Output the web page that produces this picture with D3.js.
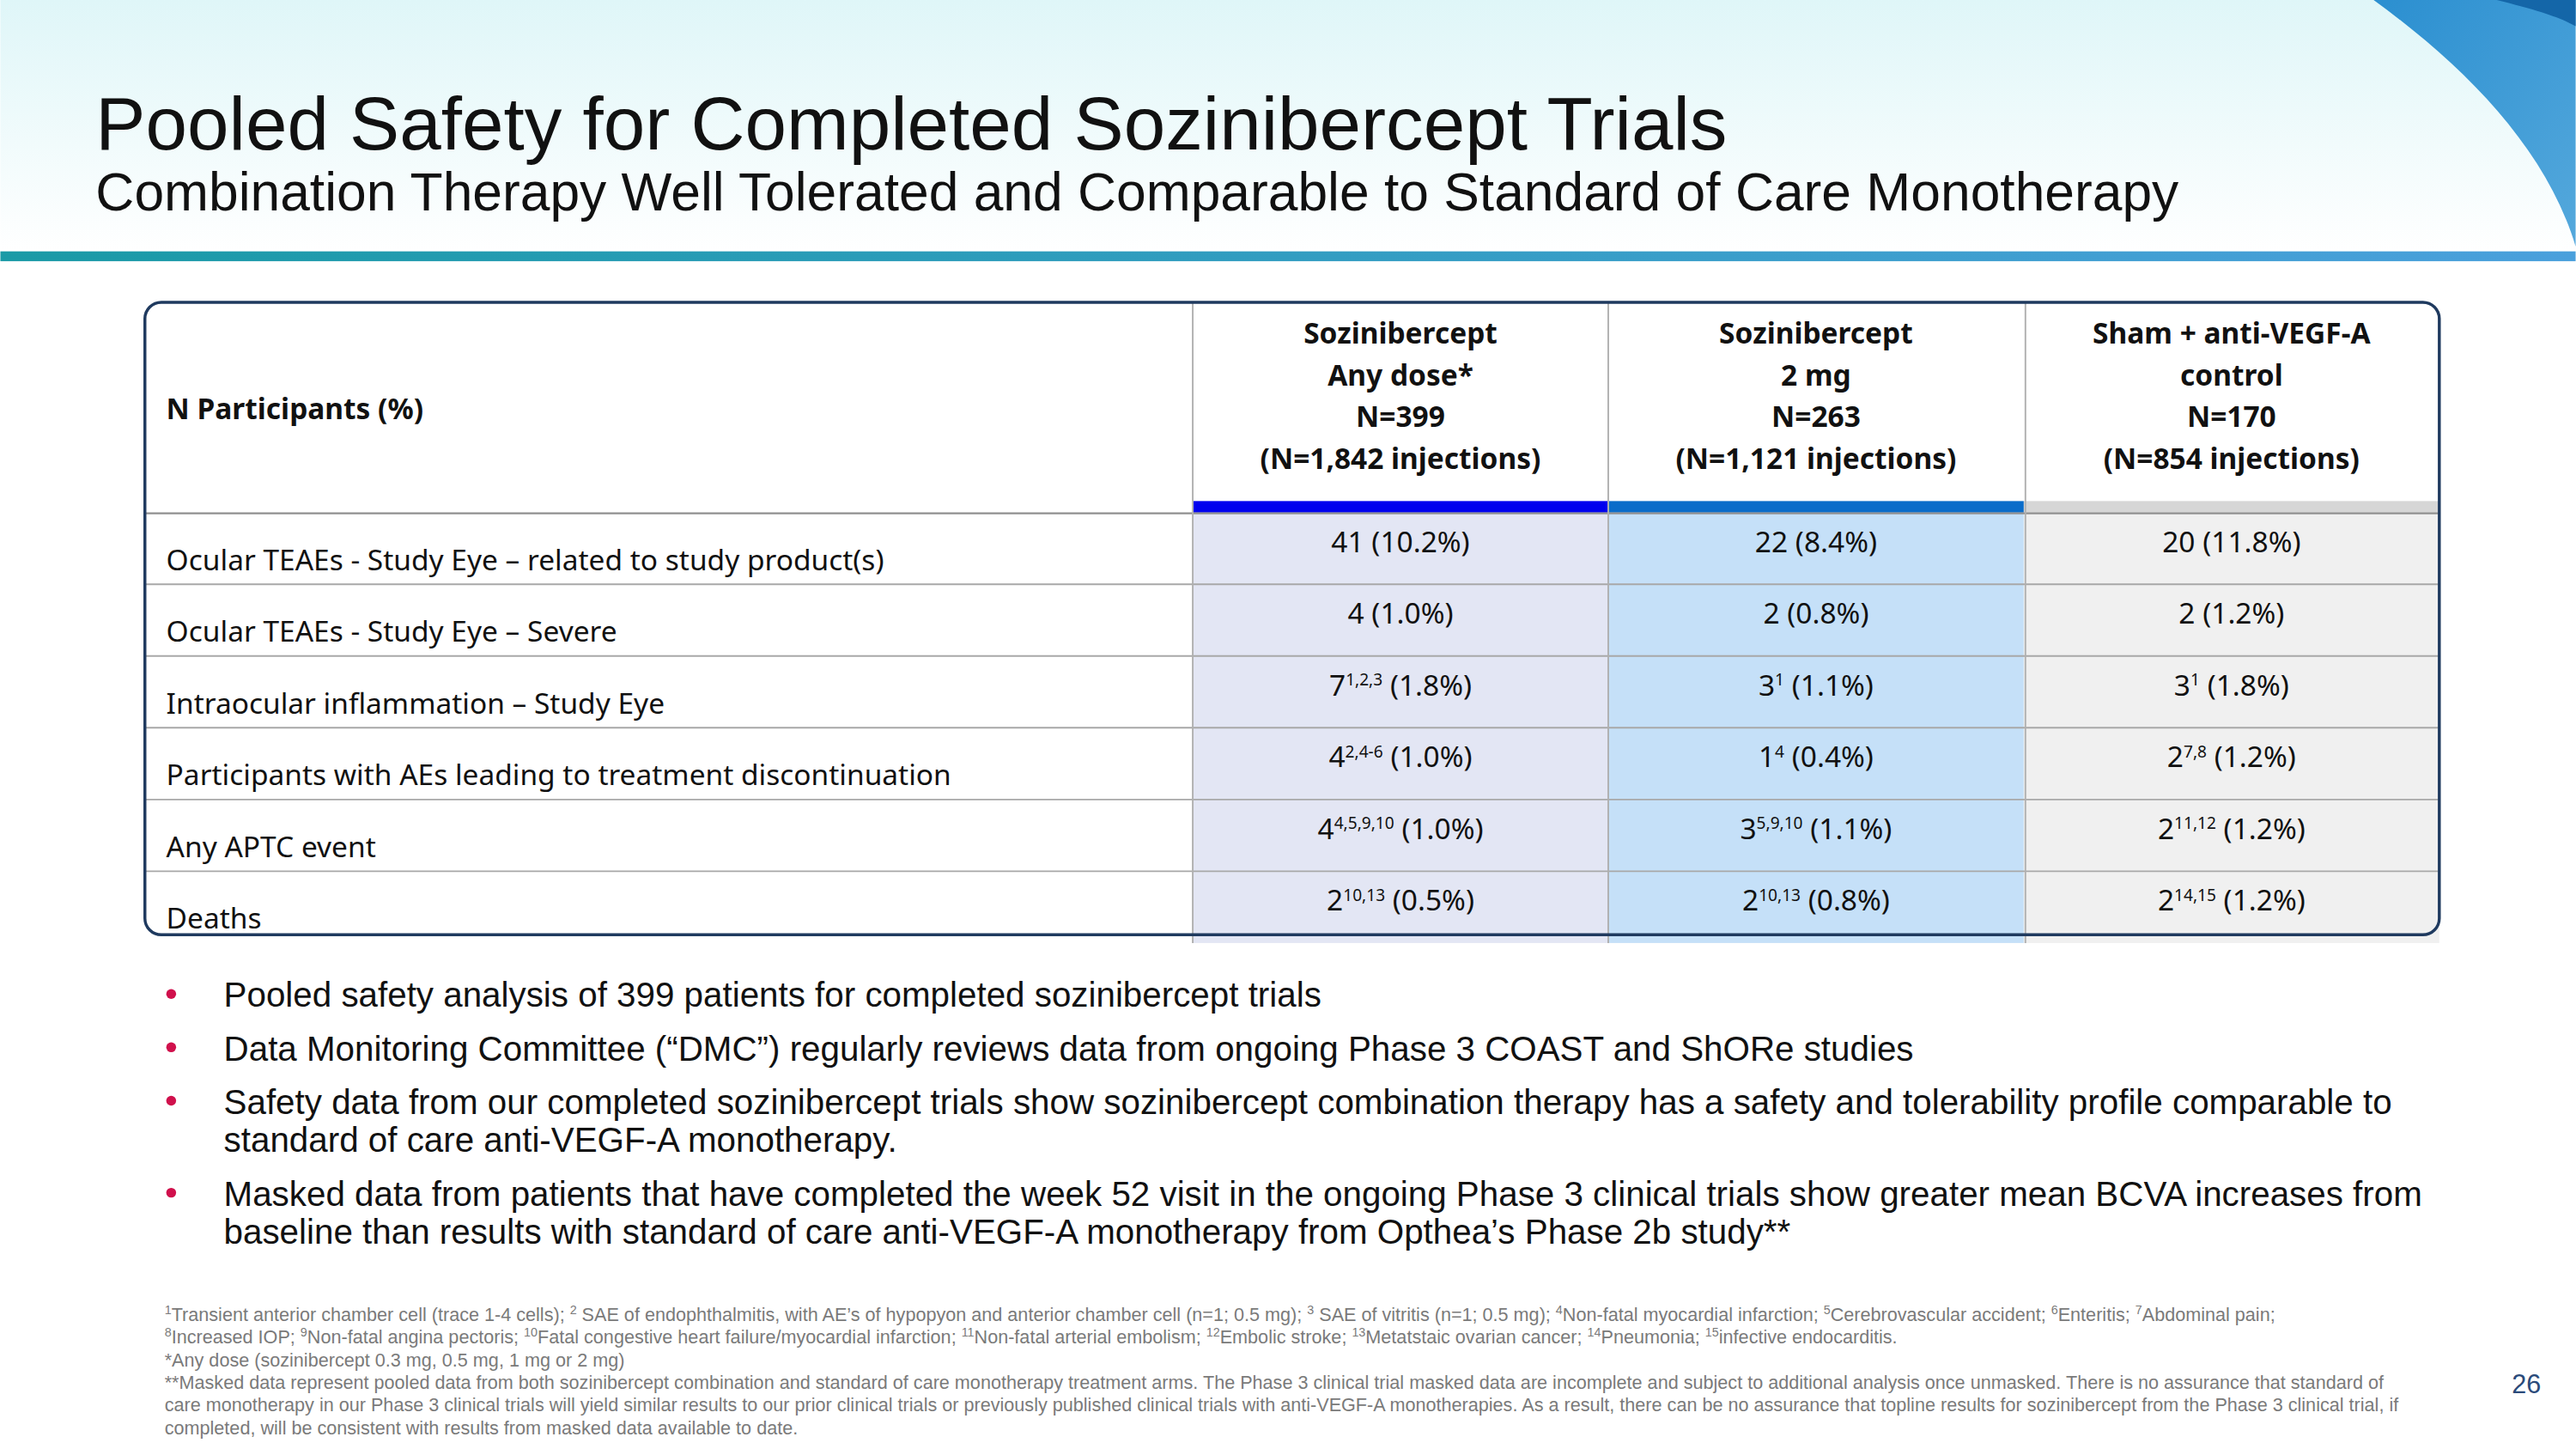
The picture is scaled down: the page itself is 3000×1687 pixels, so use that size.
<!DOCTYPE html>
<html><head><meta charset="utf-8">
<script src="https://cdn.jsdelivr.net/npm/d3@7"></script>
<style>html,body{margin:0;padding:0;background:#fff;overflow:hidden}</style>
</head><body>
<svg id="c" width="3000" height="1687" viewBox="0 0 1568 882"></svg>
<script>
const title = "Pooled Safety for Completed Sozinibercept Trials";
const subtitle = "Combination Therapy Well Tolerated and Comparable to Standard of Care Monotherapy";
const rowHeader = "N Participants (%)";
const colHeaders = [
  ["Sozinibercept","Any dose*","N=399","(N=1,842 injections)"],
  ["Sozinibercept","2 mg","N=263","(N=1,121 injections)"],
  ["Sham + anti-VEGF-A","control","N=170","(N=854 injections)"]
];
const rowLabels = [
  "Ocular TEAEs - Study Eye \u2013 related to study product(s)",
  "Ocular TEAEs - Study Eye \u2013 Severe",
  "Intraocular inflammation \u2013 Study Eye",
  "Participants with AEs leading to treatment discontinuation",
  "Any APTC event",
  "Deaths"
];
const anyDoseCounts = [41,4,7,4,4,2];
const anyDoseSup = ["","","1,2,3","2,4-6","4,5,9,10","10,13"];
const anyDosePct = ["10.2%","1.0%","1.8%","1.0%","1.0%","0.5%"];
const twoMgCounts = [22,2,3,1,3,2];
const twoMgSup = ["","","1","4","5,9,10","10,13"];
const twoMgPct = ["8.4%","0.8%","1.1%","0.4%","1.1%","0.8%"];
const shamCounts = [20,2,3,2,2,2];
const shamSup = ["","","1","7,8","11,12","14,15"];
const shamPct = ["11.8%","1.2%","1.8%","1.2%","1.2%","1.2%"];
const bullets = [
  ["Pooled safety analysis of 399 patients for completed sozinibercept trials"],
  ["Data Monitoring Committee (\u201cDMC\u201d) regularly reviews data from ongoing Phase 3 COAST and ShORe studies"],
  ["Safety data from our completed sozinibercept trials show sozinibercept combination therapy has a safety and tolerability profile comparable to","standard of care anti-VEGF-A monotherapy."],
  ["Masked data from patients that have completed the week 52 visit in the ongoing Phase 3 clinical trials show greater mean BCVA increases from","baseline than results with standard of care anti-VEGF-A monotherapy from Opthea\u2019s Phase 2b study**"]
];
const footnotes = [
  [["1",""],["","Transient anterior chamber cell (trace 1-4 cells); "],["2",""],[""," SAE of endophthalmitis, with AE\u2019s of hypopyon and anterior chamber cell (n=1; 0.5 mg); "],["3",""],[""," SAE of vitritis (n=1; 0.5 mg); "],["4",""],["","Non-fatal myocardial infarction; "],["5",""],["","Cerebrovascular accident; "],["6",""],["","Enteritis; "],["7",""],["","Abdominal pain;"]],
  [["8",""],["","Increased IOP; "],["9",""],["","Non-fatal angina pectoris; "],["10",""],["","Fatal congestive heart failure/myocardial infarction; "],["11",""],["","Non-fatal arterial embolism; "],["12",""],["","Embolic stroke; "],["13",""],["","Metatstaic ovarian cancer; "],["14",""],["","Pneumonia; "],["15",""],["","infective endocarditis."]],
  [["","*Any dose (sozinibercept 0.3 mg, 0.5 mg, 1 mg or 2 mg)"]],
  [["","**Masked data represent pooled data from both sozinibercept combination and standard of care monotherapy treatment arms.  The Phase 3 clinical trial masked data are incomplete and subject to additional analysis once unmasked.  There is no assurance that standard of"]],
  [["","care monotherapy in our Phase 3 clinical trials will yield similar results to our prior clinical trials or previously published clinical trials with anti-VEGF-A monotherapies.  As a result, there can be no assurance that topline results for sozinibercept from the Phase 3 clinical trial, if"]],
  [["","completed, will be consistent with results from masked data available to date."]]
];
const pageNum = "26";
const colFills = ["#e3e6f4","#c5e0f8","#f0f0f0"];
const colBars = ["#0000ee","#0a6cc9","#d6d6d6"];

const svg = d3.select("#c");
const defs = svg.append("defs");
const bg = defs.append("linearGradient").attr("id","bg").attr("x1",0).attr("y1",0).attr("x2",0).attr("y2",1);
bg.append("stop").attr("offset","0%").attr("stop-color","#dff6f8");
bg.append("stop").attr("offset","100%").attr("stop-color","#ffffff");
const tb = defs.append("linearGradient").attr("id","tb");
tb.append("stop").attr("offset","0%").attr("stop-color","#1a9aa6");
tb.append("stop").attr("offset","100%").attr("stop-color","#4aa0dc");
const sw = defs.append("linearGradient").attr("id","sw").attr("x1",0).attr("y1",0).attr("x2",1).attr("y2",1);
sw.append("stop").attr("offset","0%").attr("stop-color","#2b8fd0");
sw.append("stop").attr("offset","100%").attr("stop-color","#54a8dc");

svg.append("rect").attr("width",1568).attr("height",882).attr("fill","#fff");
svg.append("rect").attr("width",1568).attr("height",154).attr("fill","url(#bg)");
svg.append("path").attr("d","M1445,0 C1500,40 1550,90 1568,150 L1568,0 Z").attr("fill","url(#sw)");
svg.append("path").attr("d","M1520,0 C1540,5 1558,10 1568,16 L1568,0 Z").attr("fill","#1466a8");
svg.append("rect").attr("y",153).attr("width",1568).attr("height",6).attr("fill","url(#tb)");

svg.append("text").attr("x",58).attr("y",91).attr("font-family","Liberation Sans, Arial").attr("font-size",45.6).attr("fill","#111").text(title);
svg.append("text").attr("x",58).attr("y",128).attr("font-family","Liberation Sans, Arial").attr("font-size",32.6).attr("fill","#111").text(subtitle);

// table
const cx = d3.scaleBand().domain(d3.range(3)).range([726,1485]).paddingInner(0);
const y = d3.scaleBand().domain(d3.range(rowLabels.length)).range([312,574]);
const tF = "Noto Sans, Open Sans, sans-serif";

const cols = [
  {counts:anyDoseCounts,sup:anyDoseSup,pct:anyDosePct},
  {counts:twoMgCounts,sup:twoMgSup,pct:twoMgPct},
  {counts:shamCounts,sup:shamSup,pct:shamPct}
];
cols.forEach((c,i)=>{
  svg.append("rect").attr("x",cx(i)).attr("y",312).attr("width",cx.bandwidth()).attr("height",574-312).attr("fill",colFills[i]);
  svg.append("rect").attr("x",cx(i)).attr("y",305).attr("width",cx.bandwidth()).attr("height",7).attr("fill",colBars[i]);
});
rowLabels.forEach((r,j)=>{
  if(j>0) svg.append("line").attr("x1",88).attr("x2",1485).attr("y1",y(j)).attr("y2",y(j)).attr("stroke","#a8a8a8").attr("stroke-width",1);
});
svg.append("line").attr("x1",88).attr("x2",1485).attr("y1",312.5).attr("y2",312.5).attr("stroke","#909090").attr("stroke-width",1.2);
[726,979,1233].forEach(v=>svg.append("line").attr("x1",v).attr("x2",v).attr("y1",184).attr("y2",574).attr("stroke","#b0b0b0").attr("stroke-width",1));
svg.append("rect").attr("x",88).attr("y",184).attr("width",1397).attr("height",385).attr("rx",10).attr("fill","none").attr("stroke","#1f3a5f").attr("stroke-width",1.8);

svg.append("text").attr("x",101).attr("y",255).attr("font-family",tF).attr("font-weight","bold").attr("font-size",17.5).attr("fill","#111").text(rowHeader);
colHeaders.forEach((h,i)=>{
  h.forEach((line,k)=>{
    svg.append("text").attr("x",cx(i)+cx.bandwidth()/2).attr("y",209+k*25.5).attr("text-anchor","middle")
      .attr("font-family",tF).attr("font-weight","bold").attr("font-size",17.5).attr("fill","#111").text(line);
  });
});
rowLabels.forEach((r,j)=>{
  svg.append("text").attr("x",101).attr("y",y(j)+y.bandwidth()*0.8).attr("font-family",tF).attr("font-size",17.5).attr("fill","#111").text(r);
});
cols.forEach((c,i)=>{
  c.counts.forEach((v,j)=>{
    const t = svg.append("text").attr("x",cx(i)+cx.bandwidth()/2).attr("y",y(j)+y.bandwidth()*0.55).attr("text-anchor","middle")
      .attr("font-family",tF).attr("font-size",17.5).attr("fill","#111");
    t.append("tspan").text(v);
    if(c.sup[j]) t.append("tspan").attr("font-size",10).attr("dy",-6).text(c.sup[j]);
    t.append("tspan").attr("dy",c.sup[j]?6:0).text(" ("+c.pct[j]+")");
  });
});

// bullets
let by = 613;
const bF = "Liberation Sans, Arial";
bullets.forEach(b=>{
  svg.append("circle").attr("cx",104).attr("cy",by-8).attr("r",3).attr("fill","#d0104c");
  b.forEach((line,k)=>{
    svg.append("text").attr("x",136).attr("y",by+k*23).attr("font-family",bF).attr("font-size",21.1).attr("fill","#111").text(line);
  });
  by += (b.length===1?32.5:56);
});

// footnotes
footnotes.forEach((f,k)=>{
  const t = svg.append("text").attr("x",100).attr("y",804+k*13.8).attr("font-family",bF).attr("font-size",11.3).attr("fill","#7a7a7a");
  f.forEach(([sup,txt])=>{
    if(sup) t.append("tspan").attr("font-size",7.5).attr("baseline-shift","super").text(sup);
    if(txt) t.append("tspan").text(txt);
  });
});
svg.append("text").attr("x",1538).attr("y",848).attr("text-anchor","middle").attr("font-family",bF).attr("font-size",16).attr("fill","#2a4a7a").text(pageNum);
</script>
</body></html>
